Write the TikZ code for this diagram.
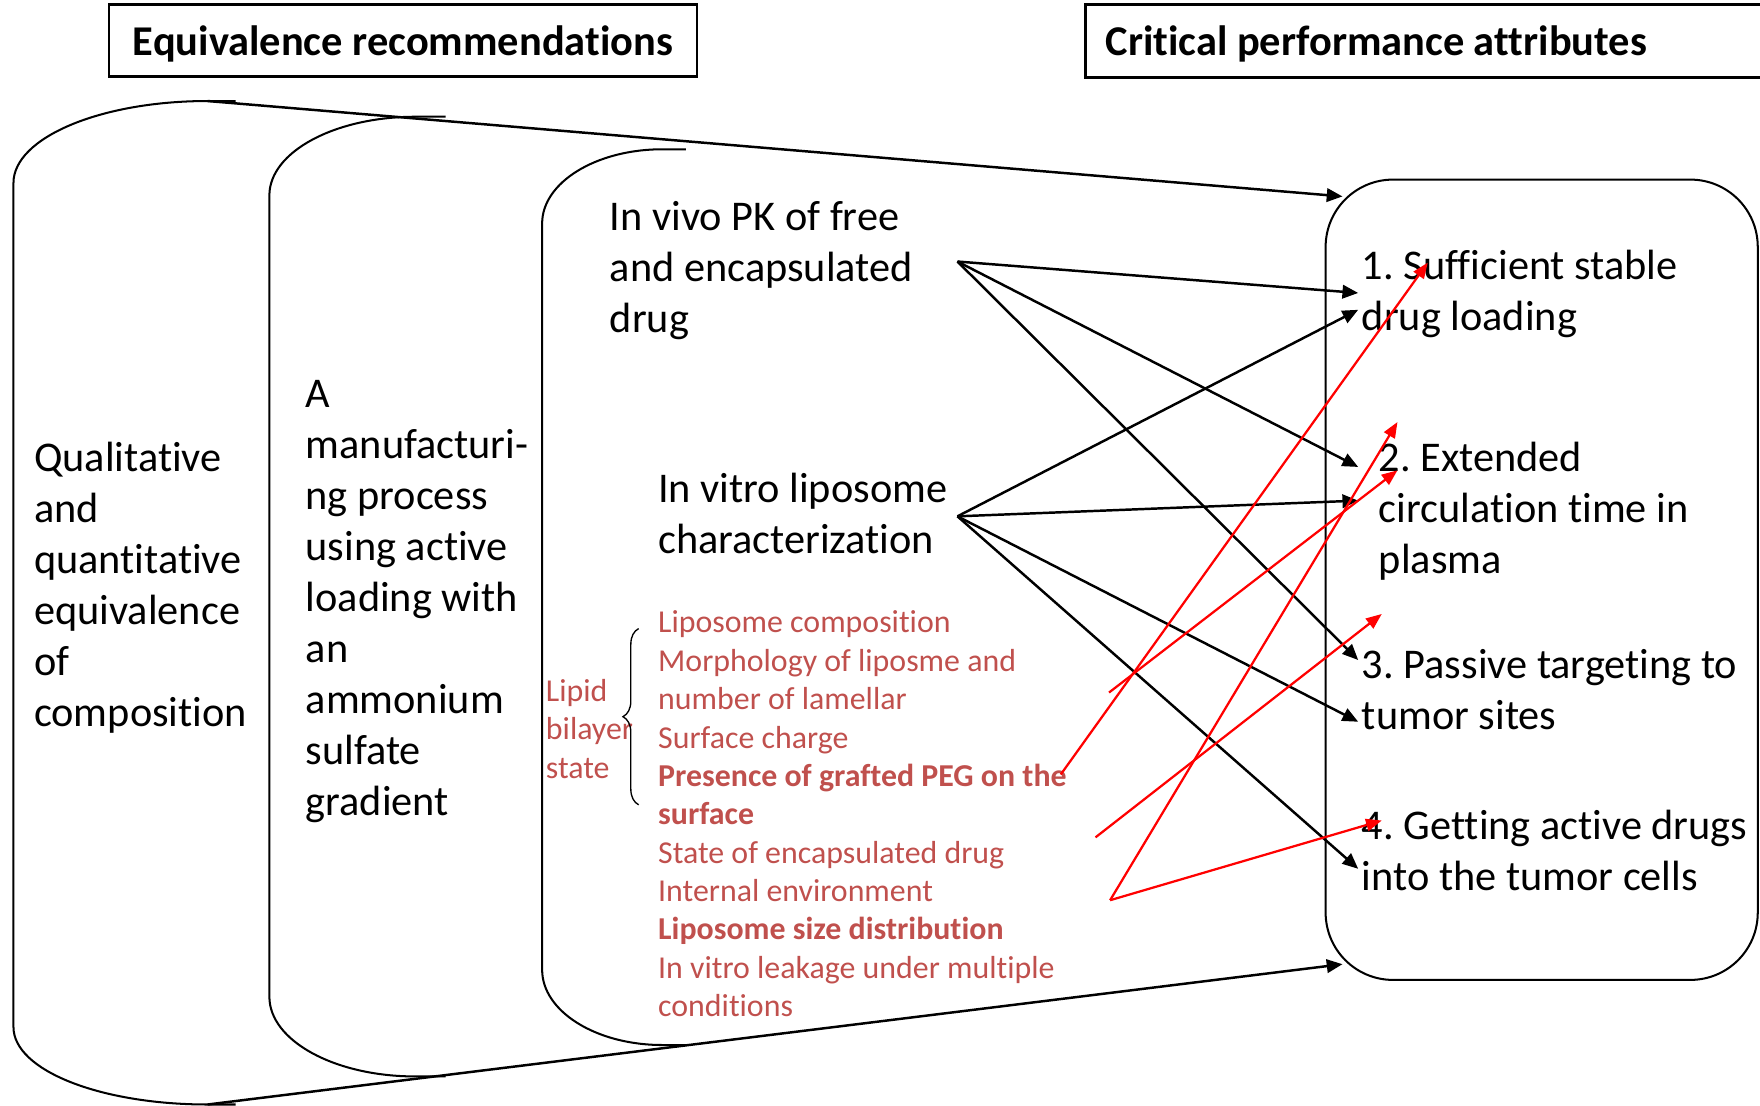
\documentclass[tikz,border=0pt]{standalone}
\usepackage{fontspec}
\setmainfont{Carlito}[Ligatures=NoCommon]
\usetikzlibrary{arrows.meta,decorations.pathreplacing}
\definecolor{attrred}{HTML}{C0504D}
\frenchspacing
\begin{document}
\begin{tikzpicture}[x=0.5pt,y=-0.5pt,hdr/.style={draw,line width=1.1pt,text height=14pt,text depth=1pt,font={\fontsize{18.9}{23}\selectfont\bfseries}},txt/.style={anchor=north west,inner sep=0pt,align=left,font={\fontsize{18.85}{22.75}\selectfont}},redtxt/.style={anchor=north west,inner sep=0pt,align=left,text=attrred,font={\fontsize{14.2}{17.1}\selectfont}},shell/.style={line width=0.9pt},arrow/.style={-{Triangle[length=7pt,width=6pt]},line width=1.1pt},redarrow/.style={-{Triangle[length=7pt,width=5.5pt]},line width=1pt,red}]
\useasboundingbox (0,0) rectangle (1568,985);
\node[hdr,minimum width=262pt,minimum height=32pt] (eqhdr) at (359,36) {Equivalence recommendations};
\node[hdr,minimum height=32.5pt,inner xsep=9pt,text width=298.5pt,align=flush left] (cpahdr) at (1283.5,36.5) {Critical performance attributes};
\draw[shell] (210,90) -- (185,90) .. controls (89.5,90) and (12,122.7) .. (12,163) -- (12,915) .. controls (12,953.6) and (89.5,984) .. (185,984) -- (210,984);
\draw[shell] (397,104) -- (370,104) .. controls (298.2,104) and (240,135.4) .. (240,174) -- (240,888) .. controls (240,927.2) and (298.2,959) .. (370,959) -- (397,959);
\draw[shell] (611,133) -- (590,133) .. controls (531,133) and (483,162.6) .. (483,199) -- (483,864) .. controls (483,901) and (531,931) .. (590,931) -- (611,931);
\node[draw,shell,rounded corners=30pt,minimum width=192.5pt,minimum height=356.5pt] (cpabox) at (1373.5,516.5) {};
\node[txt] (qual) at (30,387.4) {\strut Qualitative\\and\\quantitative\\equivalence\\of\\composition};
\node[txt] (manu) at (272,330.4) {\strut A\\manufacturi-\\ng process\\using active\\loading with\\an\\ammonium\\sulfate\\gradient};
\node[txt] (pkt) at (543,173.4) {\strut In vivo PK of free\\and encapsulated\\drug};
\node[txt] (vitro) at (586,415.4) {\strut In vitro liposome\\characterization};
\node[redtxt] (props) at (586,539.5) {\strut Liposome composition\\Morphology of liposme and\\number of lamellar\\Surface charge\\\textbf{Presence of grafted PEG on the}\\\textbf{surface}\\State of encapsulated drug\\Internal environment\\\textbf{Liposome size distribution}\\In vitro leakage under multiple\\conditions};
\node[redtxt] (lipid) at (486,600.5) {\strut Lipid\\bilayer\\state};
\draw[decorate,decoration={brace,amplitude=7pt},line width=0.6pt] (569,717) -- (569,560);
\node[txt] (cpa1) at (1213,216.4) {\strut 1. Sufficient stable\\drug loading};
\node[txt] (cpa2) at (1228,387.4) {\strut 2. Extended\\circulation time in\\plasma};
\node[txt] (cpa3) at (1213,572.4) {\strut 3. Passive targeting to\\tumor sites};
\node[txt] (cpa4) at (1213,715.4) {\strut 4. Getting active drugs\\into the tumor cells};
\coordinate (eqtop) at (185,90); \coordinate (eqbot) at (185,984);
\coordinate (boxtop) at (1196,175); \coordinate (boxbot) at (1196,859);
\coordinate (pk) at (853,233); \coordinate (vt) at (853,460);
\coordinate (a1) at (1210,261); \coordinate (a1b) at (1210,276); \coordinate (a2) at (1210,416); \coordinate (a2b) at (1210,446);
\coordinate (a3) at (1210,588); \coordinate (a3b) at (1210,643); \coordinate (a4) at (1210,774);
\coordinate (peg) at (945,690); \coordinate (rs1) at (988,617); \coordinate (rs2) at (976,746); \coordinate (rs3) at (989,802);
\coordinate (r1) at (1272,234); \coordinate (r2a) at (1245,376); \coordinate (r2b) at (1245,419); \coordinate (r3) at (1231,547); \coordinate (r4) at (1231,731);
\draw[arrow] (eqtop)--(boxtop); \draw[arrow] (eqbot)--(boxbot);
\draw[arrow] (pk)--(a1); \draw[arrow] (pk)--(a2); \draw[arrow] (pk)--(a3);
\draw[arrow] (vt)--(a1b); \draw[arrow] (vt)--(a2b); \draw[arrow] (vt)--(a3b); \draw[arrow] (vt)--(a4);
\draw[redarrow] (peg)--(r1); \draw[redarrow] (rs1)--(r2b); \draw[redarrow] (rs2)--(r3); \draw[redarrow] (rs3)--(r2a); \draw[redarrow] (rs3)--(r4);
\end{tikzpicture}
\end{document}
